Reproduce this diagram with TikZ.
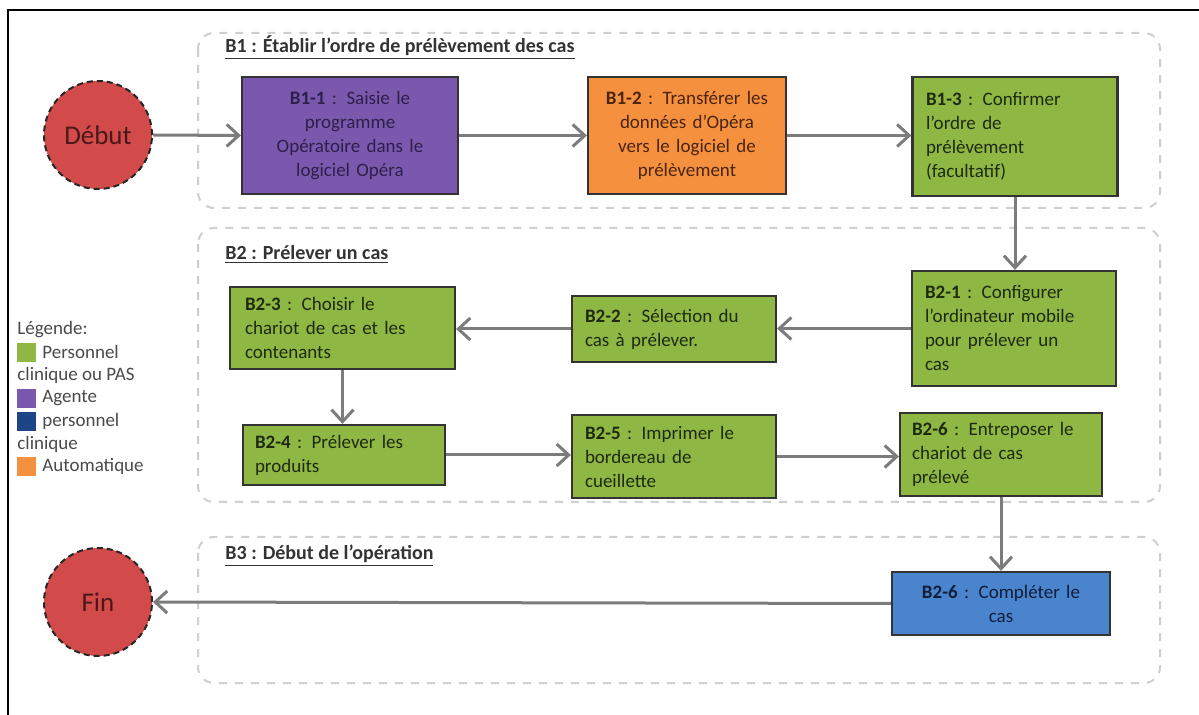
\documentclass[tikz,border=0pt]{standalone}
\usepackage{fontspec}
\setmainfont{Carlito}
\usetikzlibrary{arrows.meta}

\definecolor{actgreen}{HTML}{8FB744}
\definecolor{actpurple}{HTML}{7A58AD}
\definecolor{actorange}{HTML}{F5913E}
\definecolor{actblue}{HTML}{4A84CC}
\definecolor{actnavy}{HTML}{1D4585}
\definecolor{termred}{HTML}{D24A4A}
\definecolor{termtext}{HTML}{4A1818}
\definecolor{flowgray}{HTML}{7C7C7C}
\definecolor{grpgray}{HTML}{CFCFCF}
\definecolor{txtgreen}{HTML}{1E2A0E}
\definecolor{txtpurple}{HTML}{2E1F4A}
\definecolor{txtorange}{HTML}{4A2410}
\definecolor{txtblue}{HTML}{0E1E3C}
\definecolor{legtxt}{HTML}{4A4A4A}

\begin{document}
\begin{tikzpicture}[x=0.5pt,y=-0.5pt,
  grp/.style={draw=grpgray, line width=1pt, dash pattern=on 4pt off 4pt, rounded corners=8pt},
  ttl/.style={anchor=west, inner sep=0pt, font=\fontsize{10pt}{12pt}\selectfont\bfseries, text=black!80},
  actbox/.style={draw=black!80, line width=1.1pt, inner ysep=2pt, font=\fontsize{9.5pt}{12pt}\selectfont},
  lbox/.style={actbox, align=left},
  cbox/.style={actbox, align=center},
  gbox/.style={lbox, fill=actgreen, text=txtgreen},
  flow/.style={draw=flowgray, line width=1.5pt, -{Straight Barb[length=6pt,width=11pt]}},
  term/.style={circle, draw=black!85, line width=1pt, dash pattern=on 3pt off 2pt,
    fill=termred, minimum size=54pt, inner sep=0pt,
    font=\fontsize{13.5pt}{15pt}\selectfont, text=termtext},
  legsq/.style={minimum size=9.5pt, inner sep=0pt, anchor=north west},
  legtx/.style={anchor=west, inner sep=0pt, font=\fontsize{9.5pt}{11pt}\selectfont, text=legtxt}]

\useasboundingbox (0,0) rectangle (1199,715);
\fill[white] (0,0) rectangle (1199,715);

% outer frame
\begin{scope}
  \clip (0,0) rectangle (1199,715);
  \draw[black, line width=1pt] (8,10) rectangle (1240,760);
\end{scope}

% phase groups
\draw[grp] (198,33) rectangle (1160,208);
\draw[grp] (198,228) rectangle (1160,502);
\draw[grp] (198,537) rectangle (1160,683);

\node[ttl] (t1) at (225,48) {\underline{B1 : Établir l’ordre de prélèvement des cas}};
\node[ttl] (t2) at (225,255) {\underline{B2 : Prélever un cas}};
\node[ttl] (t3) at (225,556) {\underline{B3 : Début de l’opération}};

% start / end
\node[term] (deb) at (98,135) {Début};
\node[term] (fin) at (98,602) {Fin};

% B1 activities
\node[cbox, fill=actpurple, text=txtpurple, minimum width=108pt, minimum height=58.5pt, text width=98pt]
  (b11) at (350,135.5) {\textbf{B1-1} : Saisie le\\programme\\Opératoire dans le\\logiciel Opéra};
\node[cbox, fill=actorange, text=txtorange, minimum width=99pt, minimum height=58.5pt, text width=92pt]
  (b12) at (687,135.5) {\textbf{B1-2} : Transférer les\\données d’Opéra\\vers le logiciel de\\prélèvement};
\node[gbox, minimum width=102.5pt, minimum height=59.5pt, text width=89pt]
  (b13) at (1015,136.5) {\textbf{B1-3} : Confirmer\\l’ordre de\\prélèvement\\(facultatif)};

% B2 activities
\node[gbox, minimum width=102pt, minimum height=57.5pt, text width=89pt]
  (b21) at (1014,328.5) {\textbf{B2-1} : Configurer\\l’ordinateur mobile\\pour prélever un\\cas};
\node[gbox, minimum width=102pt, minimum height=33pt, text width=89pt]
  (b22) at (674,329) {\textbf{B2-2} : Sélection du\\cas à prélever.};
\node[gbox, minimum width=112.5pt, minimum height=41pt, text width=97.5pt]
  (b23) at (342.5,328) {\textbf{B2-3} : Choisir le\\chariot de cas et les\\contenants};
\node[gbox, minimum width=101pt, minimum height=30pt, text width=89pt]
  (b24) at (344,455) {\textbf{B2-4} : Prélever les\\produits};
\node[gbox, minimum width=102pt, minimum height=41.5pt, text width=89pt]
  (b25) at (674,456.5) {\textbf{B2-5} : Imprimer le\\bordereau de\\cueillette};
\node[gbox, minimum width=101pt, minimum height=41.5pt, text width=89pt]
  (b26) at (1001,454.5) {\textbf{B2-6} : Entreposer le\\chariot de cas\\prélevé};

% B3 activity
\node[cbox, fill=actblue, text=txtblue, minimum width=109pt, minimum height=31.5pt, text width=100pt]
  (b3) at (1001,603.5) {\textbf{B2-6} : Compléter le\\cas};

% flow
\draw[flow] (deb.east) -- (b11.west);
\draw[flow] (b11.east) -- (b12.west);
\draw[flow] (b12.east) -- (b12.east -| b13.west);
\draw[flow] (b13.south) -- (b13.south |- b21.north);
\draw[flow] (b21.west) -- (b21.west -| b22.east);
\draw[flow] (b22.west) -- (b22.west -| b23.east);
\draw[flow] (b23.south) -- (b23.south |- b24.north);
\draw[flow] (b24.east) -- (b24.east -| b25.west);
\draw[flow] (b25.east) -- (b25.east -| b26.west);
\draw[flow] (b26.south) -- (b26.south |- b3.north);
\draw[flow] (b3.west) -- (fin.east);

% legend
\node[legtx] (lg0) at (17,330) {Légende:};
\node[legsq, fill=actgreen] (lq1) at (17,343) {};
\node[legtx] (lg1) at (42,352) {Personnel};
\node[legtx] (lg2) at (17,375) {clinique ou PAS};
\node[legsq, fill=actpurple] (lq2) at (17,389) {};
\node[legtx] (lg3) at (42,398) {Agente};
\node[legsq, fill=actnavy] (lq3) at (17,412) {};
\node[legtx] (lg4) at (42,421) {personnel};
\node[legtx] (lg5) at (17,444) {clinique};
\node[legsq, fill=actorange] (lq4) at (17,457) {};
\node[legtx] (lg6) at (42,466) {Automatique};
\end{tikzpicture}
\end{document}
